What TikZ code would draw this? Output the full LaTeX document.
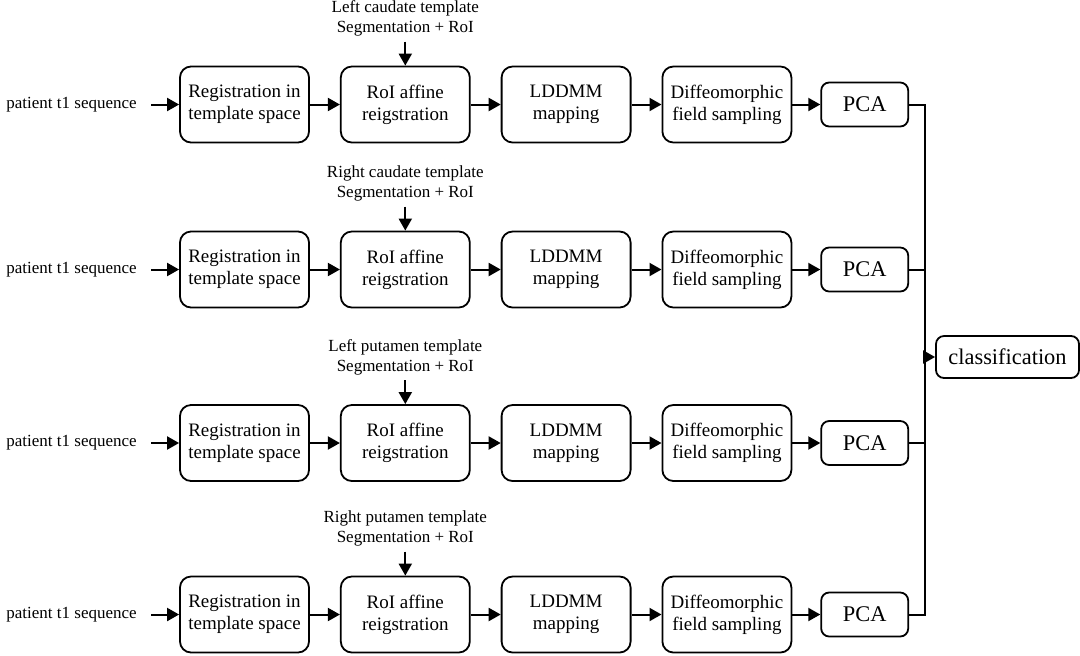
\documentclass[tikz,border=0pt]{standalone}
\usepackage{fontspec}
\setmainfont{Liberation Serif}
\usetikzlibrary{arrows.meta, positioning}

\begin{document}
\begin{tikzpicture}[
    x=0.5pt, y=-0.5pt,
    node distance=15pt,
    box/.style={rectangle, draw, line width=0.9pt, minimum width=64.5pt, minimum height=38pt, inner sep=2pt, align=center, rounded corners=5.5pt, font=\fontsize{9.5}{11}\selectfont},
    pcabox/.style={rectangle, draw, line width=0.9pt, minimum width=43.5pt, minimum height=22pt, inner sep=2pt, rounded corners=4pt, font=\fontsize{11.2}{13}\selectfont},
    tpl/.style={align=center, inner xsep=0pt, inner ysep=2.5pt, font=\fontsize{8.5}{10}\selectfont},
    input/.style={inner xsep=7pt, inner ysep=0pt, font=\fontsize{8.5}{10}\selectfont},
    arrow/.style={-{Triangle[length=6pt, width=6.5pt]}, line width=1pt},
    wire/.style={line width=1pt}
]
\useasboundingbox (0,0) rectangle (1080,655);

% row 1: left caudate
\node[box] (reg1) at (244.5,104.5) {Registration in\\template space};
\node[box, right=of reg1] (roi1) {RoI affine\\reigstration};
\node[box, right=of roi1] (lddmm1) {LDDMM\\mapping};
\node[box, right=of lddmm1] (diffeo1) {Diffeomorphic\\field sampling};
\node[pcabox, right=14pt of diffeo1] (pca1) {PCA};
\node[input, left=14pt of reg1] (in1) {patient t1 sequence};
\node[tpl, above=12pt of roi1] (tpl1) {Left caudate template\\Segmentation + RoI};

% row 2: right caudate
\node[box] (reg2) at (244.5,269.5) {Registration in\\template space};
\node[box, right=of reg2] (roi2) {RoI affine\\reigstration};
\node[box, right=of roi2] (lddmm2) {LDDMM\\mapping};
\node[box, right=of lddmm2] (diffeo2) {Diffeomorphic\\field sampling};
\node[pcabox, right=14pt of diffeo2] (pca2) {PCA};
\node[input, left=14pt of reg2] (in2) {patient t1 sequence};
\node[tpl, above=12pt of roi2] (tpl2) {Right caudate template\\Segmentation + RoI};

% row 3: left putamen
\node[box] (reg3) at (244.5,443) {Registration in\\template space};
\node[box, right=of reg3] (roi3) {RoI affine\\reigstration};
\node[box, right=of roi3] (lddmm3) {LDDMM\\mapping};
\node[box, right=of lddmm3] (diffeo3) {Diffeomorphic\\field sampling};
\node[pcabox, right=14pt of diffeo3] (pca3) {PCA};
\node[input, left=14pt of reg3] (in3) {patient t1 sequence};
\node[tpl, above=12pt of roi3] (tpl3) {Left putamen template\\Segmentation + RoI};

% row 4: right putamen
\node[box] (reg4) at (244.5,614.5) {Registration in\\template space};
\node[box, right=of reg4] (roi4) {RoI affine\\reigstration};
\node[box, right=of roi4] (lddmm4) {LDDMM\\mapping};
\node[box, right=of lddmm4] (diffeo4) {Diffeomorphic\\field sampling};
\node[pcabox, right=14pt of diffeo4] (pca4) {PCA};
\node[input, left=14pt of reg4] (in4) {patient t1 sequence};
\node[tpl, above=12pt of roi4] (tpl4) {Right putamen template\\Segmentation + RoI};

\node[pcabox, minimum width=71.5pt, minimum height=21pt] (cls) at (1007.5,357) {classification};

\draw[arrow] (in1) -- (reg1);
\draw[arrow] (reg1) -- (roi1);
\draw[arrow] (roi1) -- (lddmm1);
\draw[arrow] (lddmm1) -- (diffeo1);
\draw[arrow] (diffeo1) -- (pca1);
\draw[arrow] (tpl1) -- (roi1);

\draw[arrow] (in2) -- (reg2);
\draw[arrow] (reg2) -- (roi2);
\draw[arrow] (roi2) -- (lddmm2);
\draw[arrow] (lddmm2) -- (diffeo2);
\draw[arrow] (diffeo2) -- (pca2);
\draw[arrow] (tpl2) -- (roi2);

\draw[arrow] (in3) -- (reg3);
\draw[arrow] (reg3) -- (roi3);
\draw[arrow] (roi3) -- (lddmm3);
\draw[arrow] (lddmm3) -- (diffeo3);
\draw[arrow] (diffeo3) -- (pca3);
\draw[arrow] (tpl3) -- (roi3);

\draw[arrow] (in4) -- (reg4);
\draw[arrow] (reg4) -- (roi4);
\draw[arrow] (roi4) -- (lddmm4);
\draw[arrow] (lddmm4) -- (diffeo4);
\draw[arrow] (diffeo4) -- (pca4);
\draw[arrow] (tpl4) -- (roi4);

% collecting bus
\coordinate (bus1) at ([xshift=8pt]pca1.east);
\coordinate (bus4) at ([xshift=8pt]pca4.east);
\draw[wire] (pca1.east) -- (bus1) -- (bus4) -- (pca4.east);
\draw[wire] (pca2.east) -- (pca2.east -| bus1);
\draw[wire] (pca3.east) -- (pca3.east -| bus1);
\draw[arrow] (cls.west -| bus1) -- (cls);

\end{tikzpicture}
\end{document}
